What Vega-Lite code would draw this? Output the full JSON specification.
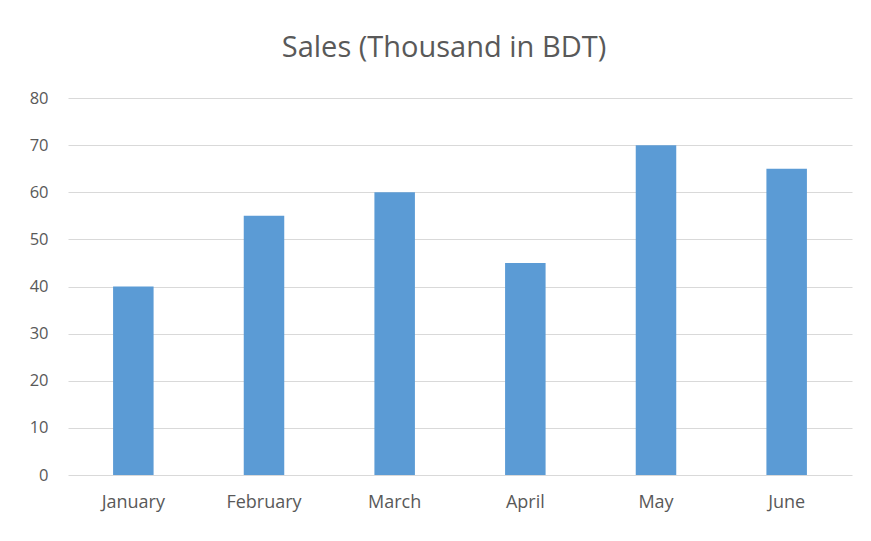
{
  "$schema": "https://vega.github.io/schema/vega-lite/v6.json",
  "width": 784,
  "height": 377,
  "autosize": {"type": "none"},
  "padding": {"left": 68, "top": 98, "right": 19, "bottom": 66},
  "background": "white",
  "title": {
    "text": "Sales (Thousand in BDT)",
    "fontSize": 29,
    "font": "Open Sans",
    "fontWeight": "normal",
    "color": "#595959",
    "anchor": "middle",
    "dx": -16,
    "offset": 27
  },
  "data": {
    "values": [
      {"month": "January", "sales": 40},
      {"month": "February", "sales": 55},
      {"month": "March", "sales": 60},
      {"month": "April", "sales": 45},
      {"month": "May", "sales": 70},
      {"month": "June", "sales": 65}
    ]
  },
  "mark": {"type": "bar", "color": "#5b9bd5"},
  "encoding": {
    "x": {
      "field": "month",
      "type": "nominal",
      "sort": null,
      "scale": {"paddingInner": 0.69, "paddingOuter": 0.345},
      "axis": {
        "title": null,
        "labelAngle": 0,
        "ticks": false,
        "domain": false,
        "labelPadding": 18,
        "labelFont": "Open Sans",
        "labelFontSize": 18,
        "labelColor": "#595959"
      }
    },
    "y": {
      "field": "sales",
      "type": "quantitative",
      "scale": {"domain": [0, 80]},
      "axis": {
        "title": null,
        "values": [0, 10, 20, 30, 40, 50, 60, 70, 80],
        "ticks": false,
        "domain": false,
        "labelPadding": 20,
        "labelFont": "Open Sans",
        "labelFontSize": 16.5,
        "labelColor": "#595959",
        "gridColor": "#d9d9d9",
        "gridWidth": 1
      }
    }
  },
  "config": {"view": {"stroke": null}}
}
